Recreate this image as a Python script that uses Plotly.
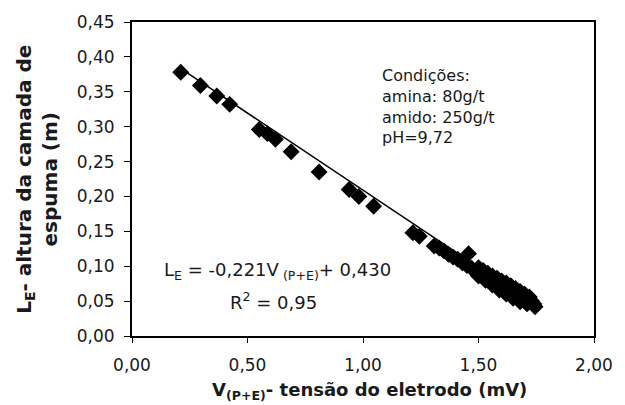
import plotly.graph_objects as go

# Measured points: V(P+E) (mV) vs L_E (m)
v_pts = [0.211, 0.296, 0.367, 0.423, 0.551, 0.586, 0.621, 0.689, 0.810,
         0.940, 0.982, 1.046, 1.216, 1.244, 1.308,
         1.33, 1.35, 1.37, 1.39, 1.41, 1.43, 1.45, 1.457, 1.47, 1.49,
         1.50, 1.51, 1.52, 1.53, 1.54, 1.55, 1.56, 1.57, 1.58, 1.59,
         1.60, 1.61, 1.62, 1.63, 1.64, 1.65, 1.66, 1.67, 1.68, 1.69,
         1.70, 1.71, 1.72, 1.73, 1.74, 1.745,
         1.50, 1.53, 1.56, 1.59, 1.62, 1.65, 1.68, 1.71]
le_pts = [0.378, 0.359, 0.344, 0.332, 0.296, 0.290, 0.282, 0.264, 0.235,
          0.210, 0.200, 0.186, 0.148, 0.143, 0.129,
          0.126, 0.122, 0.117, 0.113, 0.110, 0.105, 0.101, 0.118, 0.097, 0.093,
          0.098, 0.089, 0.094, 0.085, 0.090, 0.082, 0.086, 0.078, 0.083, 0.075,
          0.079, 0.071, 0.076, 0.068, 0.072, 0.065, 0.068, 0.061, 0.064, 0.058,
          0.060, 0.054, 0.056, 0.050, 0.046, 0.042,
          0.086, 0.080, 0.073, 0.066, 0.060, 0.054, 0.049, 0.046]

# Linear fit reported on chart
slope = -0.221
intercept = 0.430
fit_x = [0.21, 1.745]
fit_y = [slope * v + intercept for v in fit_x]

x_ticks = [0.0, 0.5, 1.0, 1.5, 2.0]
x_tick_labels = ["0,00", "0,50", "1,00", "1,50", "2,00"]
y_ticks = [0.0, 0.05, 0.10, 0.15, 0.20, 0.25, 0.30, 0.35, 0.40, 0.45]
y_tick_labels = ["0,00", "0,05", "0,10", "0,15", "0,20", "0,25", "0,30", "0,35", "0,40", "0,45"]

txt = "#1a1a1a"
FONT = "DejaVu Sans, Arial, sans-serif"
fig = go.Figure()
fig.add_trace(go.Scatter(x=v_pts, y=le_pts, mode="markers",
                         marker=dict(symbol="diamond", size=13, color="black"),
                         showlegend=False))
fig.add_trace(go.Scatter(x=fit_x, y=fit_y, mode="lines",
                         line=dict(color="black", width=1.5), showlegend=False))

fig.update_layout(
    width=625, height=405,
    margin=dict(l=132, r=22, t=19, b=69),
    paper_bgcolor="white", plot_bgcolor="white",
    font=dict(family=FONT, size=16, color=txt),
    xaxis=dict(range=[0, 2.0], tickvals=x_ticks, ticktext=x_tick_labels,
               showgrid=False, zeroline=False, showline=True, linecolor="black",
               linewidth=2, mirror=True, ticks="outside", ticklen=5,
               tickcolor="black", ticklabelstandoff=8,
               tickfont=dict(family=FONT, size=17, color=txt)),
    yaxis=dict(range=[0, 0.45], tickvals=y_ticks, ticktext=y_tick_labels,
               showgrid=False, zeroline=False, showline=True, linecolor="black",
               linewidth=2, mirror=True, ticks="outside", ticklen=6,
               tickcolor="black", ticklabelstandoff=6,
               tickfont=dict(family=FONT, size=17, color=txt)),
)

fig.add_annotation(xref="paper", yref="paper", x=0.514, y=-0.176,
                   xanchor="center", yanchor="middle",
                   showarrow=False,
                   text="<b>V<sub>(P+E)</sub>- tensão do eletrodo (mV)</b>",
                   font=dict(family=FONT, size=18, color=txt))
fig.add_annotation(xref="paper", yref="paper", x=-0.206, y=0.5, textangle=-90,
                   xanchor="center", yanchor="middle",
                   showarrow=False,
                   text="<b>L<sub>E</sub>- altura da camada de<br>espuma (m)</b>",
                   font=dict(family=FONT, size=20, color=txt))
fig.add_annotation(xref="x", yref="y", x=1.074, y=0.39, xanchor="left", yanchor="top",
                   showarrow=False, align="left",
                   text="Condições:<br>amina: 80g/t<br>amido: 250g/t<br>pH=9,72",
                   font=dict(family=FONT, size=16, color=txt))
fig.add_annotation(xref="x", yref="y", x=0.132, y=0.093, xanchor="left",
                   showarrow=False,
                   text="L<sub>E</sub> = -0,221V<sub> (P+E)</sub>+ 0,430",
                   font=dict(family=FONT, size=18, color=txt))
fig.add_annotation(xref="x", yref="y", x=0.416, y=0.050, xanchor="left",
                   showarrow=False,
                   text="R<sup>2</sup> = 0,95",
                   font=dict(family=FONT, size=18, color=txt))

fig.write_html("out.html")
